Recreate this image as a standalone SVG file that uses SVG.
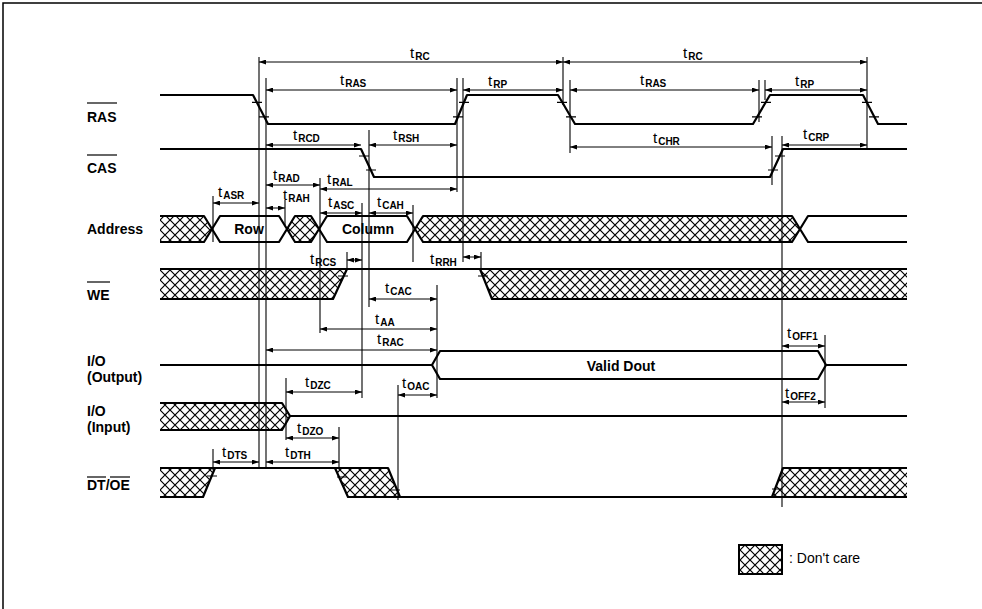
<svg xmlns="http://www.w3.org/2000/svg" width="982" height="609" viewBox="0 0 982 609">
<style>
.sig{fill:none;stroke:#000;stroke-width:2.2;stroke-linejoin:round}
.hat{fill:url(#h);stroke:none}
.box{fill:#fff;stroke:#000;stroke-width:2.2;stroke-linejoin:round}
.g{stroke:#000;stroke-width:1.1;fill:none}
.tk{stroke:#000;stroke-width:1.2}
.d{stroke:#000;stroke-width:1;fill:none;marker-start:url(#a);marker-end:url(#a)}
.lb{font-family:"Liberation Sans",Arial,sans-serif;font-size:14px;font-weight:bold;fill:#000}
.tl{font-family:"Liberation Sans",Arial,sans-serif;font-size:15px;fill:#000}
.sub{font-size:10px;font-weight:bold}
.lg{font-family:"Liberation Sans",Arial,sans-serif;font-size:14px;fill:#000}
</style>
<defs>
<pattern id="h" width="10" height="10" patternUnits="userSpaceOnUse"><path d="M0,0L10,10M10,0L0,10" stroke="#000" stroke-width="1.2"/></pattern>
<marker id="a" viewBox="0 0 7 5" refX="7" refY="2.5" markerWidth="7" markerHeight="5" orient="auto-start-reverse" markerUnits="userSpaceOnUse"><path d="M0,0L7,2.5L0,5z" fill="#000"/></marker>
</defs>
<path d="M3,609V3H982" fill="none" stroke="#000" stroke-width="1.5"/>

<g id="label-ras"><text class="lb" x="87" y="122">RAS</text><line x1="87" y1="103" x2="117" y2="103" stroke="#000" stroke-width="1.2"/></g>
<g id="label-cas"><text class="lb" x="87" y="173">CAS</text><line x1="87" y1="155" x2="117" y2="155" stroke="#000" stroke-width="1.2"/></g>
<g id="label-address"><text class="lb" x="87" y="234">Address</text></g>
<g id="label-we"><text class="lb" x="87" y="300">WE</text><line x1="87" y1="282" x2="110" y2="282" stroke="#000" stroke-width="1.2"/></g>
<g id="label-io-out"><text class="lb" x="87" y="366">I/O</text><text class="lb" x="87" y="382">(Output)</text></g>
<g id="label-io-in"><text class="lb" x="87" y="416">I/O</text><text class="lb" x="87" y="432">(Input)</text></g>
<g id="label-dtoe"><text class="lb" x="87" y="490">DT/OE</text><line x1="87" y1="477" x2="106" y2="477" stroke="#000" stroke-width="1.2"/><line x1="110" y1="477" x2="130" y2="477" stroke="#000" stroke-width="1.2"/></g>

<g id="sig-ras">
<path class="sig" d="M160,95H253L268,124H455L467,95H558L575,124H753L770,95H863L878,124H907"/>
<path class="tk" d="M252,102.3h10M259,116.8h10M459,102.3h10M453,116.8h10M557,102.3h10M566,116.8h10M761,102.3h10M752,116.8h10M862,102.3h10M869,116.8h10"/>
</g>
<g id="sig-cas">
<path class="sig" d="M160,149H361L374,177H770L783,149H907"/>
<path class="tk" d="M359,156h10M366,170h10M768,170h10M775,156h10"/>
</g>
<g id="sig-address">
<path class="hat" d="M160,216H204L212,229L204,242H160Z"/>
<path class="sig" d="M160,216H204L212,229L204,242H160"/>
<path class="box" d="M212,229L220,216H279L287,229L279,242H220Z"/>
<path class="hat" d="M287,229L295,216H311L319,229L311,242H295Z"/>
<path class="sig" d="M287,229L295,216H311L319,229L311,242H295Z"/>
<path class="box" d="M319,229L327,216H407L415,229L407,242H327Z"/>
<path class="hat" d="M415,229L423,216H792L800,229L792,242H423Z"/>
<path class="sig" d="M415,229L423,216H792L800,229L792,242H423Z"/>
<path class="sig" d="M907,216H808L800,229L808,242H907"/>
<text class="lb" x="249" y="234" text-anchor="middle">Row</text>
<text class="lb" x="368" y="234" text-anchor="middle">Column</text>
</g>
<g id="sig-we">
<path class="hat" d="M160,269H347L333,299H160Z"/>
<path class="hat" d="M480,269H907V299H492Z"/>
<path class="sig" d="M160,269H907M160,299H333L347,269M480,269L492,299H907"/>
<path class="tk" d="M338,276h10M478,276h10"/>
</g>
<g id="sig-io-out">
<path class="sig" d="M160,365H432M826,365H907"/>
<path class="box" d="M432,365L440,351H818L826,365L818,379H440Z"/>
<text class="lb" x="621" y="371" text-anchor="middle">Valid Dout</text>
</g>
<g id="sig-io-in">
<path class="hat" d="M160,403H282L290,416L282,430H160Z"/>
<path class="sig" d="M160,403H282L290,416L282,430H160M290,416H907"/>
</g>
<g id="sig-dtoe">
<path class="hat" d="M160,468H215L203,497H160Z"/>
<path class="hat" d="M335,468H388L400,497H348Z"/>
<path class="hat" d="M772,497L783,468H907V497Z"/>
<path class="sig" d="M160,468H388L400,497H348L335,468M160,497H203L215,468M348,497H907M772,497L783,468H907"/>
<path class="tk" d="M207,476h10M337,477h10M390,490h10M772,489h10"/>
</g>

<g id="legend">
<rect x="739" y="545" width="43" height="29" fill="url(#h)" stroke="#000" stroke-width="2"/>
<text class="lg" x="789" y="563">: Don't care</text>
</g>

<g id="connectors">
<path class="g" d="M259,57V468M266,78V468M213,196V242M213,449V470M285,200V225M286,378V440M320,178V333M347,252V270M362,203V398M369,130V307M413,205V262M437,285V398M398,385V500M339,427V469M457,78V192M463,78V262M481,252V270M563,57V105M570,80V153M759,80V122M765,80V100M772,136V185M782,136V507M867,57V149M825,335V408"/>
<path class="d" d="M259,62H563"/>
<path class="d" d="M563,62H867"/>
<path class="d" d="M266,90H457"/>
<path class="d" d="M463,90H563"/>
<path class="d" d="M570,90H759"/>
<path class="d" d="M765,90H867"/>
<path class="d" d="M266,145H361"/>
<path class="d" d="M369,145H457"/>
<path class="d" d="M570,147H772"/>
<path class="d" d="M782,145H867"/>
<path class="d" d="M266,185H320"/>
<path class="d" d="M320,189H457"/>
<path class="d" d="M213,203H259"/>
<path class="d" d="M266,208H285"/>
<path class="d" d="M320,213H362"/>
<path class="d" d="M369,213H413"/>
<path class="d" d="M347,260H362"/>
<path class="d" d="M463,257H481"/>
<path class="d" d="M369,299H437"/>
<path class="d" d="M320,329H437"/>
<path class="d" d="M266,350H437"/>
<path class="d" d="M286,392H362"/>
<path class="d" d="M398,395H437"/>
<path class="d" d="M286,438H339"/>
<path class="d" d="M213,462H259"/>
<path class="d" d="M266,462H339"/>
<path class="d" d="M782,346H825"/>
<path class="d" d="M782,402H825"/>
</g>

<g id="timing-labels">
<text class="tl" x="410" y="58">t<tspan class="sub" dx="1" dy="1.5">RC</tspan></text>
<text class="tl" x="683" y="58">t<tspan class="sub" dx="1" dy="1.5">RC</tspan></text>
<text class="tl" x="340" y="85">t<tspan class="sub" dx="1" dy="1.5">RAS</tspan></text>
<text class="tl" x="488" y="86">t<tspan class="sub" dx="1" dy="1.5">RP</tspan></text>
<text class="tl" x="640" y="85">t<tspan class="sub" dx="1" dy="1.5">RAS</tspan></text>
<text class="tl" x="795" y="86">t<tspan class="sub" dx="1" dy="1.5">RP</tspan></text>
<text class="tl" x="293" y="140">t<tspan class="sub" dx="1" dy="1.5">RCD</tspan></text>
<text class="tl" x="393" y="140">t<tspan class="sub" dx="1" dy="1.5">RSH</tspan></text>
<text class="tl" x="653" y="143">t<tspan class="sub" dx="1" dy="1.5">CHR</tspan></text>
<text class="tl" x="803" y="139">t<tspan class="sub" dx="1" dy="1.5">CRP</tspan></text>
<text class="tl" x="273" y="180">t<tspan class="sub" dx="1" dy="1.5">RAD</tspan></text>
<text class="tl" x="327" y="184">t<tspan class="sub" dx="1" dy="1.5">RAL</tspan></text>
<text class="tl" x="218" y="197">t<tspan class="sub" dx="1" dy="1.5">ASR</tspan></text>
<text class="tl" x="283" y="200">t<tspan class="sub" dx="1" dy="1.5">RAH</tspan></text>
<text class="tl" x="328" y="207">t<tspan class="sub" dx="1" dy="1.5">ASC</tspan></text>
<text class="tl" x="377" y="207">t<tspan class="sub" dx="1" dy="1.5">CAH</tspan></text>
<text class="tl" x="310" y="264">t<tspan class="sub" dx="1" dy="1.5">RCS</tspan></text>
<text class="tl" x="430" y="264">t<tspan class="sub" dx="1" dy="1.5">RRH</tspan></text>
<text class="tl" x="385" y="293">t<tspan class="sub" dx="1" dy="1.5">CAC</tspan></text>
<text class="tl" x="375" y="324">t<tspan class="sub" dx="1" dy="1.5">AA</tspan></text>
<text class="tl" x="377" y="344">t<tspan class="sub" dx="1" dy="1.5">RAC</tspan></text>
<text class="tl" x="305" y="387">t<tspan class="sub" dx="1" dy="1.5">DZC</tspan></text>
<text class="tl" x="402" y="388">t<tspan class="sub" dx="1" dy="1.5">OAC</tspan></text>
<text class="tl" x="297" y="433">t<tspan class="sub" dx="1" dy="1.5">DZO</tspan></text>
<text class="tl" x="222" y="457">t<tspan class="sub" dx="1" dy="1.5">DTS</tspan></text>
<text class="tl" x="285" y="457">t<tspan class="sub" dx="1" dy="1.5">DTH</tspan></text>
<text class="tl" x="787" y="338">t<tspan class="sub" dx="1" dy="1.5">OFF1</tspan></text>
<text class="tl" x="785" y="398">t<tspan class="sub" dx="1" dy="1.5">OFF2</tspan></text>
</g>
</svg>
